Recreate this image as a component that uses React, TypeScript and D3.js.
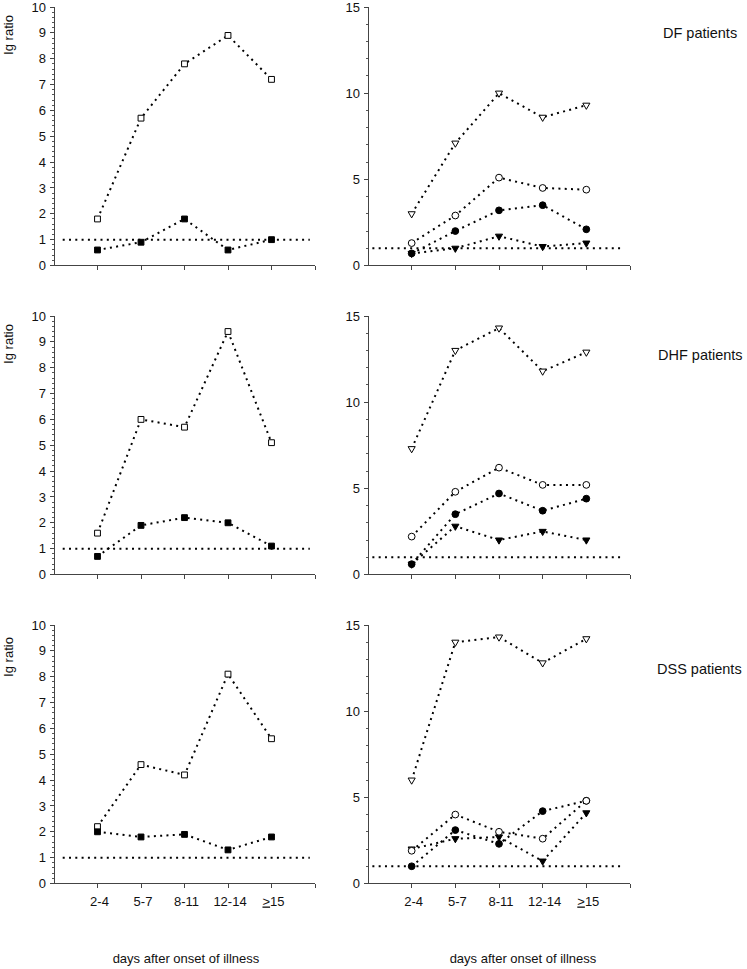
import * as d3 from "d3";

// categories on the x axis
const categories = ["2-4", "5-7", "8-11", "12-14", "≥15"];

// left panels (scale 0-10): squares
const dfOpenSquare = [1.8, 5.7, 7.8, 8.9, 7.2];
const dfFilledSquare = [0.6, 0.9, 1.8, 0.6, 1.0];
const dhfOpenSquare = [1.6, 6.0, 5.7, 9.4, 5.1];
const dhfFilledSquare = [0.7, 1.9, 2.2, 2.0, 1.1];
const dssOpenSquare = [2.2, 4.6, 4.2, 8.1, 5.6];
const dssFilledSquare = [2.0, 1.8, 1.9, 1.3, 1.8];

// right panels (scale 0-15): triangles and circles
const dfOpenTriangle = [3.0, 7.1, 10.0, 8.6, 9.3];
const dfOpenCircle = [1.3, 2.9, 5.1, 4.5, 4.4];
const dfFilledCircle = [0.7, 2.0, 3.2, 3.5, 2.1];
const dfFilledTriangle = [0.7, 1.0, 1.7, 1.1, 1.3];

const dhfOpenTriangle = [7.3, 13.0, 14.3, 11.8, 12.9];
const dhfOpenCircle = [2.2, 4.8, 6.2, 5.2, 5.2];
const dhfFilledCircle = [0.6, 3.5, 4.7, 3.7, 4.4];
const dhfFilledTriangle = [0.6, 2.8, 2.0, 2.5, 2.0];

const dssOpenTriangle = [6.0, 14.0, 14.3, 12.8, 14.2];
const dssOpenCircle = [1.9, 4.0, 3.0, 2.6, 4.8];
const dssFilledCircle = [1.0, 3.1, 2.3, 4.2, 4.8];
const dssFilledTriangle = [2.0, 2.6, 2.7, 1.3, 4.1];

const groupNames = ["DF patients", "DHF patients", "DSS patients"];
const refLevel = 1;
const yLabel = "Ig ratio";
const xTitle = "days after onset of illness";

// layout
const W = 747;
const H = 969;
const panelTops = [7, 316, 625];
const panelH = 258.5;
const leftRange = [54, 315];
const rightRange = [368, 630];
const groupLabelPos = [
  { x: 663, y: 38 },
  { x: 658, y: 360 },
  { x: 657, y: 674 },
];
const yLabelOffset = [28, 28, 32];
const font = "'Liberation Sans', Arial, sans-serif";

type Shape = "square" | "circle" | "triangle";
type Series = { values: number[]; shape: Shape; filled: boolean };

const leftSeries: Series[][] = [
  [
    { values: dfOpenSquare, shape: "square", filled: false },
    { values: dfFilledSquare, shape: "square", filled: true },
  ],
  [
    { values: dhfOpenSquare, shape: "square", filled: false },
    { values: dhfFilledSquare, shape: "square", filled: true },
  ],
  [
    { values: dssOpenSquare, shape: "square", filled: false },
    { values: dssFilledSquare, shape: "square", filled: true },
  ],
];

const rightSeries: Series[][] = [
  [
    { values: dfFilledTriangle, shape: "triangle", filled: true },
    { values: dfFilledCircle, shape: "circle", filled: true },
    { values: dfOpenCircle, shape: "circle", filled: false },
    { values: dfOpenTriangle, shape: "triangle", filled: false },
  ],
  [
    { values: dhfFilledTriangle, shape: "triangle", filled: true },
    { values: dhfFilledCircle, shape: "circle", filled: true },
    { values: dhfOpenCircle, shape: "circle", filled: false },
    { values: dhfOpenTriangle, shape: "triangle", filled: false },
  ],
  [
    { values: dssFilledTriangle, shape: "triangle", filled: true },
    { values: dssFilledCircle, shape: "circle", filled: true },
    { values: dssOpenCircle, shape: "circle", filled: false },
    { values: dssOpenTriangle, shape: "triangle", filled: false },
  ],
];

const symbolPath = (shape: Shape) => {
  if (shape === "square") return d3.symbol().type(d3.symbolSquare).size(34)()!;
  if (shape === "circle") return d3.symbol().type(d3.symbolCircle).size(36)()!;
  return d3.symbol().type(d3.symbolTriangle).size(22)()!;
};

const dotted = { stroke: "#000", strokeWidth: 2, strokeDasharray: "2,4.3", fill: "none" };

function Panel({
  top,
  range,
  yMax,
  majorStep,
  minorStep,
  series,
  showXLabels,
}: {
  top: number;
  range: number[];
  yMax: number;
  majorStep: number;
  minorStep: number;
  series: Series[];
  showXLabels: boolean;
}) {
  const x = d3.scaleLinear().domain([0, categories.length + 1]).range(range);
  const y = d3.scaleLinear().domain([0, yMax]).range([top + panelH, top]);
  const line = d3
    .line<number>()
    .x((_, i) => x(i + 1))
    .y((d) => y(d));
  const majors = d3.range(0, yMax + 0.001, majorStep);
  const minors = d3.range(0, yMax + 0.001, minorStep);
  const x0 = range[0];
  const yBase = y(0);
  const refStart = range === leftRange ? 0.2 : 0.1;
  const refEnd = range === leftRange ? 5.88 : 5.83;

  return (
    <g>
      {/* y axis */}
      <line x1={x0} x2={x0} y1={y(yMax)} y2={yBase} stroke="#444" shapeRendering="crispEdges" />
      {minors.map((v) => (
        <line key={"m" + v} x1={x0 - 2} x2={x0} y1={y(v)} y2={y(v)} stroke="#555" shapeRendering="crispEdges" />
      ))}
      {majors.map((v) => (
        <g key={"M" + v}>
          <line x1={x0 - 4} x2={x0} y1={y(v)} y2={y(v)} stroke="#444" shapeRendering="crispEdges" />
          <text x={x0 - 8} y={y(v) + 4.6} textAnchor="end" fontSize={13} fontFamily={font} fill="#111">
            {v}
          </text>
        </g>
      ))}
      {/* x axis */}
      <line x1={x0} x2={range[1]} y1={yBase} y2={yBase} stroke="#444" shapeRendering="crispEdges" />
      {d3.range(1, categories.length + 2).map((i) => (
        <line key={"xt" + i} x1={x(i)} x2={x(i)} y1={yBase} y2={yBase + 4} stroke="#444" shapeRendering="crispEdges" />
      ))}
      {showXLabels &&
        categories.map((c, i) => (
          <text
            key={c}
            x={x(i + 1) + 2}
            y={yBase + 22}
            textAnchor="middle"
            fontSize={13}
            fontFamily={font}
            fill="#111"
          >
            {c.startsWith("≥") ? (
              <>
                <tspan textDecoration="underline">&gt;</tspan>
                {c.slice(1)}
              </>
            ) : (
              c
            )}
          </text>
        ))}
      {/* reference line */}
      <line x1={x(refStart)} x2={x(refEnd)} y1={y(refLevel)} y2={y(refLevel)} {...dotted} />
      {series.map((s, k) => (
        <path key={"l" + k} d={line(s.values)!} {...dotted} />
      ))}
      {series.map((s, k) =>
        s.values.map((v, i) => (
          <path
            key={"p" + k + "-" + i}
            d={symbolPath(s.shape)}
            transform={`translate(${x(i + 1)},${y(v)})${s.shape === "triangle" ? " rotate(180)" : ""}`}
            fill={s.filled ? "#000" : "#fff"}
            stroke="#000"
            strokeWidth={1}
          />
        ))
      )}
    </g>
  );
}

export default function App() {
  return (
    <svg
      width={W}
      height={H}
      viewBox={`0 0 ${W} ${H}`}
      style={{ position: "absolute", left: 0, top: 0, background: "#fff" }}
    >
      <rect width={W} height={H} fill="#fff" />
      {panelTops.map((top, r) => (
        <g key={r}>
          <Panel
            top={top}
            range={leftRange}
            yMax={10}
            majorStep={1}
            minorStep={0.2}
            series={leftSeries[r]}
            showXLabels={r === 2}
          />
          <Panel
            top={top}
            range={rightRange}
            yMax={15}
            majorStep={5}
            minorStep={1}
            series={rightSeries[r]}
            showXLabels={r === 2}
          />
          <text
            transform={`translate(13,${top + yLabelOffset[r]}) rotate(-90)`}
            textAnchor="middle"
            fontSize={13}
            fontFamily={font}
            fill="#111"
          >
            {yLabel}
          </text>
          <text x={groupLabelPos[r].x} y={groupLabelPos[r].y} fontSize={14.5} fontFamily={font} fill="#111">
            {groupNames[r]}
          </text>
        </g>
      ))}
      <text x={186} y={963} textAnchor="middle" fontSize={13} fontFamily={font} fill="#111">
        {xTitle}
      </text>
      <text x={523} y={963} textAnchor="middle" fontSize={13} fontFamily={font} fill="#111">
        {xTitle}
      </text>
    </svg>
  );
}
